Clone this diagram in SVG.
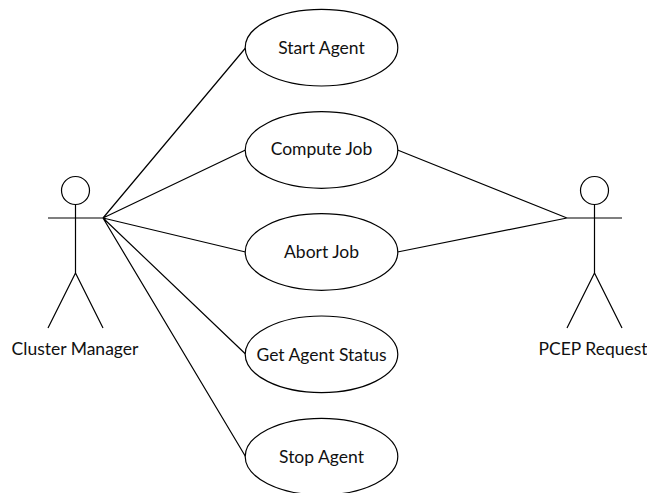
<svg xmlns="http://www.w3.org/2000/svg" width="647" height="493" viewBox="0 0 647 493">
<style>
.s{fill:none;stroke:#000;stroke-width:1.2}
.e{fill:#fff;stroke:#000;stroke-width:1.2}
text{font-family:"Lato","Liberation Sans",sans-serif;font-size:17.5px;fill:#111;text-anchor:middle}
</style>
<rect width="647" height="493" fill="#fff"/>
<g id="connectors">
<path class="s" d="M103 218L245.500 48M103 218L245.500 150M103 218L245.500 252M103 218L245.500 354M103 218L245.500 456.500M567 218L397.500 150M567 218L397.500 252"/>
</g>
<g id="actor-cluster-manager">
<circle class="s" cx="75.500" cy="190.500" r="14"/>
<path class="s" d="M75.500 204.500V273M48 218H103M75.500 273L48 328M75.500 273L103 328"/>
<text x="75" y="355">Cluster Manager</text>
</g>
<g id="actor-pcep-request">
<circle class="s" cx="594.500" cy="190.500" r="14"/>
<path class="s" d="M594.500 204.500V273M567 218H622M594.500 273L567 328M594.500 273L622 328"/>
<text x="593" y="355">PCEP Request</text>
</g>
<g id="uc-start-agent"><ellipse class="e" cx="321.500" cy="47.700" rx="76.300" ry="38.300"/><text x="321.500" y="54">Start Agent</text></g>
<g id="uc-compute-job"><ellipse class="e" cx="321.500" cy="150" rx="76.300" ry="38.300"/><text x="321.500" y="155">Compute Job</text></g>
<g id="uc-abort-job"><ellipse class="e" cx="321.500" cy="252" rx="76.300" ry="38.300"/><text x="321.500" y="258">Abort Job</text></g>
<g id="uc-get-agent-status"><ellipse class="e" cx="321.500" cy="354.300" rx="76.300" ry="38.300"/><text x="321.500" y="361">Get Agent Status</text></g>
<g id="uc-stop-agent"><ellipse class="e" cx="321.500" cy="456.600" rx="76.300" ry="38.300"/><text x="321.500" y="463">Stop Agent</text></g>
</svg>
